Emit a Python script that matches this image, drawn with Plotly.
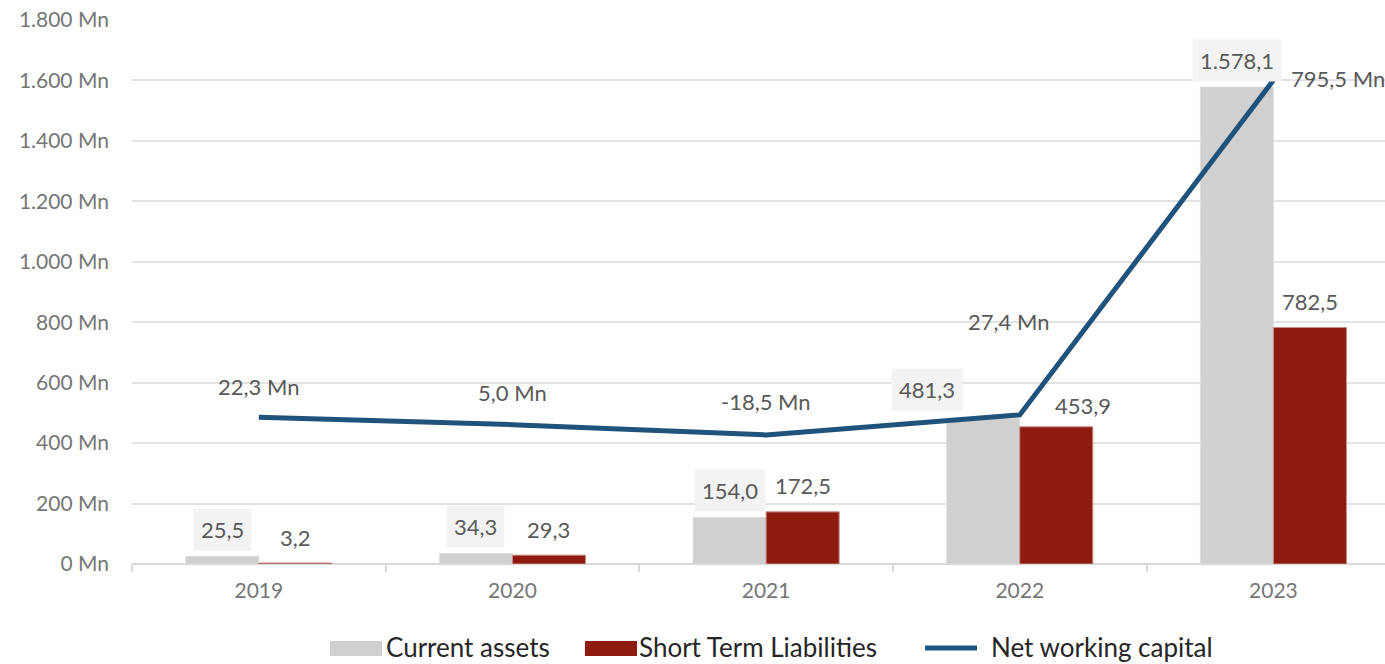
import plotly.graph_objects as go

years = ["2019", "2020", "2021", "2022", "2023"]
current_assets = [25.5, 34.3, 154.0, 481.3, 1578.1]
short_term_liab = [3.2, 29.3, 172.5, 453.9, 782.5]
net_working_capital = [22.3, 5.0, -18.5, 27.4, 795.5]
y_ticks = [0, 200, 400, 600, 800, 1000, 1200, 1400, 1600, 1800]

W, H = 1385, 664
ML, MR, MT, MB = 132, 0, 20, 100

def fmt(v):
    s = f"{v:,.1f}"
    return s.replace(",", "X").replace(".", ",").replace("X", ".")

def ytick(v):
    return f"{v:,}".replace(",", ".") + " Mn"

x = list(range(len(years)))
bw = 0.288

fig = go.Figure()
fig.add_trace(go.Bar(x=x, y=current_assets, name="Current assets",
                     marker=dict(color="#d0d0d0", line=dict(color="#dedede", width=1)),
                     width=bw, offset=-bw, showlegend=False))
fig.add_trace(go.Bar(x=x, y=short_term_liab, name="Short Term Liabilities",
                     marker=dict(color="#8e1b10", line=dict(color="#c98a85", width=1)),
                     width=bw, offset=0, showlegend=False))
fig.add_trace(go.Scatter(x=x, y=net_working_capital, name="Net working capital",
                         mode="lines", line=dict(color="#1f537b", width=5),
                         yaxis="y2", showlegend=False))

FONT = "Lato, Carlito, sans-serif"
lab_font = dict(family=FONT, size=22, color="#595959")
ann = []
ca_shift = [(0, 27), (0, 27), (0, 27), (-56, 29), (0, 27)]
for i, v in enumerate(current_assets):
    dx, dy = ca_shift[i]
    ann.append(dict(x=i - bw / 2, y=v, xref="x", yref="y", text=fmt(v),
                    showarrow=False, yanchor="middle", xshift=dx, yshift=dy,
                    bgcolor="#f3f3f3", borderpad=7, font=lab_font))
stl_shift = [(0, 26), (0, 26), (0, 26), (27, 21), (0, 26)]
for i, v in enumerate(short_term_liab):
    dx, dy = stl_shift[i]
    ann.append(dict(x=i + bw / 2, y=v, xref="x", yref="y", text=fmt(v),
                    showarrow=False, yanchor="middle", xshift=dx, yshift=dy,
                    font=lab_font))
nwc_shift = [(0, 31), (0, 32), (0, 33), (-11, 93), (65, 2)]
for i, v in enumerate(net_working_capital):
    dx, dy = nwc_shift[i]
    ann.append(dict(x=i, y=v, xref="x", yref="y2", text=fmt(v) + " Mn",
                    showarrow=False, yanchor="middle", xshift=dx, yshift=dy,
                    font=lab_font))

# custom legend
pw = W - ML - MR
ph = H - MT - MB
def px(xp):
    return (xp - ML) / pw
def py(yp):
    return (H - MB - yp) / ph

shapes = []
leg_font = dict(family=FONT, size=26, color="#262626")
legend_items = [
    ("Current assets", "#d0d0d0", "rect", 330, 384),
    ("Short Term Liabilities", "#8e1b10", "rect", 585, 637),
    ("Net working capital", "#1f537b", "line", 925, 989),
]
for name, col, kind, sx, tx in legend_items:
    if kind == "rect":
        shapes.append(dict(type="rect", xref="paper", yref="paper",
                           x0=px(sx), x1=px(sx + 52), y0=py(656), y1=py(641),
                           fillcolor=col, line=dict(width=0)))
    else:
        shapes.append(dict(type="line", xref="paper", yref="paper",
                           x0=px(sx), x1=px(sx + 52), y0=py(648), y1=py(648),
                           line=dict(color=col, width=5)))
    ann.append(dict(x=px(tx), y=py(647), xref="paper", yref="paper", text=name,
                    showarrow=False, xanchor="left", yanchor="middle", font=leg_font))

fig.update_layout(
    width=W, height=H,
    margin=dict(l=ML, r=MR, t=MT, b=MB),
    plot_bgcolor="white", paper_bgcolor="white",
    barmode="overlay",
    annotations=ann, shapes=shapes,
    xaxis=dict(range=[-0.5, 4.44], tickvals=x, ticktext=years,
               tickfont=dict(family=FONT, size=21, color="#767676"),
               showgrid=False, zeroline=False, showline=False, ticks="",
               ticklabelstandoff=12,
               minor=dict(tickvals=[-0.5, 0.5, 1.5, 2.5, 3.5], ticks="outside",
                          ticklen=7, tickcolor="#d9d9d9", tickwidth=1.5, showgrid=False)),
    yaxis=dict(range=[0, 1800], tickvals=y_ticks, ticktext=[ytick(v) for v in y_ticks],
               tickfont=dict(family=FONT, size=21, color="#767676"),
               showgrid=True, gridcolor="#e3e3e3", gridwidth=1.5,
               zeroline=True, zerolinecolor="#d9d9d9", zerolinewidth=1.5,
               ticks="", ticklabelstandoff=22),
    yaxis2=dict(range=[-314.7, 933.5], overlaying="y", side="right",
                visible=False, showgrid=False, zeroline=False),
)

fig.write_html("out.html", config={"displayModeBar": False},
               post_script="document.body.style.margin='0';document.body.style.overflow='hidden';")
